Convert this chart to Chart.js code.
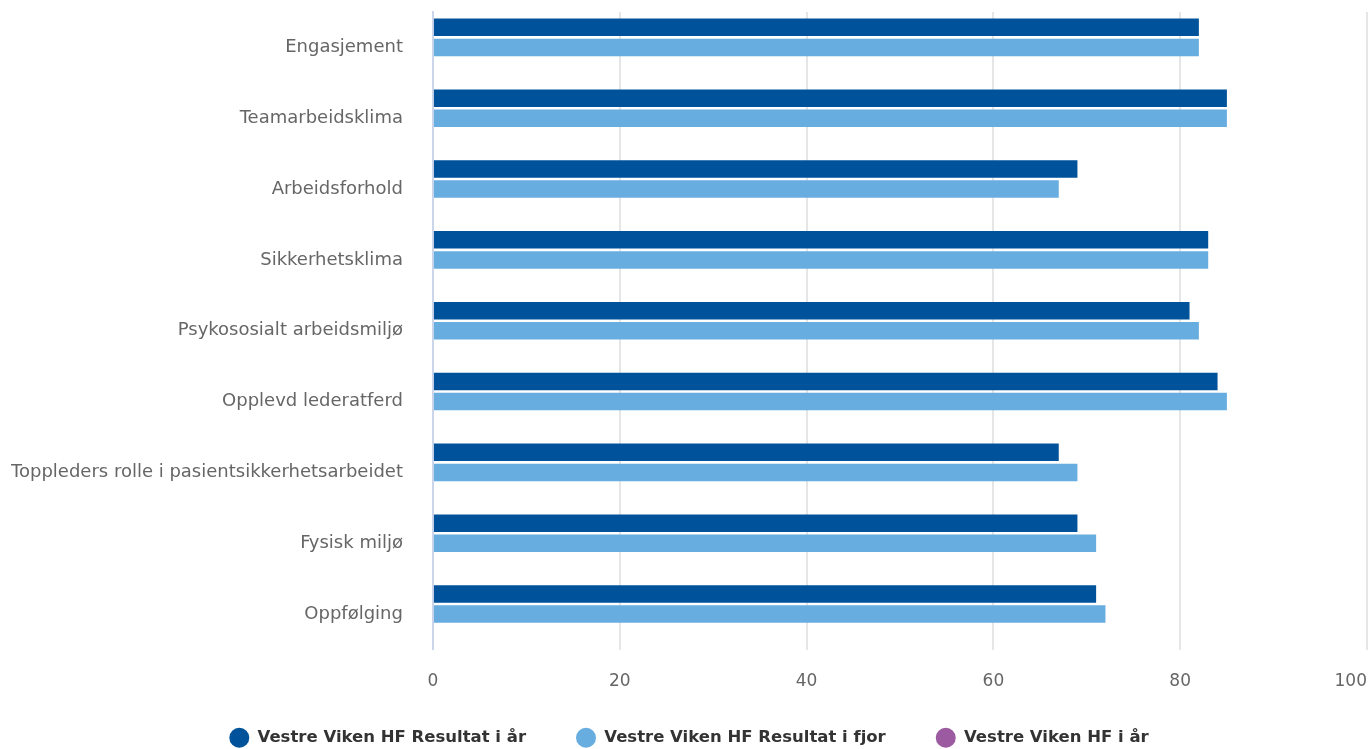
<!DOCTYPE html>
<html>
<head>
<meta charset="utf-8">
<script src="https://cdn.jsdelivr.net/npm/chart.js@4"></script>
<style>
  html, body { margin: 0; padding: 0; background: #fff; overflow: hidden; }
  #wrap { width: 1369px; height: 749px; }
</style>
</head>
<body>
<div id="wrap"><canvas id="chart"></canvas></div>
<script>
const categories = [
    'Engasjement',
    'Teamarbeidsklima',
    'Arbeidsforhold',
    'Sikkerhetsklima',
    'Psykososialt arbeidsmiljø',
    'Opplevd lederatferd',
    'Toppleders rolle i pasientsikkerhetsarbeidet',
    'Fysisk miljø',
    'Oppfølging'
];
const resultatIAar = [82, 85, 69, 83, 81, 84, 67, 69, 71];
const resultatIFjor = [82, 85, 67, 83, 82, 85, 69, 71, 72];
const hfIAar = [null, null, null, null, null, null, null, null, null];
const xTicks = [0, 20, 40, 60, 80, 100];

const font = "'DejaVu Sans', sans-serif";
const yLabelGap = 30;

// x axis box is kept short so the legend sits close; let its labels draw below it
const labelRoom = {
    id: 'labelRoom',
    afterLayout(chart) {
        chart.scales.x.bottom += 20;
    }
};

const ctx = document.getElementById('chart').getContext('2d');
new Chart(ctx, {
    type: 'bar',
    data: {
        labels: categories,
        datasets: [
            { label: 'Vestre Viken HF Resultat i år', data: resultatIAar, backgroundColor: '#00529b' },
            { label: 'Vestre Viken HF Resultat i fjor', data: resultatIFjor, backgroundColor: '#67ade0' },
            { label: 'Vestre Viken HF i år', data: hfIAar, backgroundColor: '#9c5aa0' }
        ]
    },
    plugins: [labelRoom],
    options: {
        indexAxis: 'y',
        responsive: true,
        maintainAspectRatio: false,
        animation: false,
        datasets: {
            bar: { categoryPercentage: 0.85, barPercentage: 0.87 }
        },
        layout: { padding: { left: 11, right: 2, top: 12, bottom: -7 } },
        scales: {
            x: {
                min: 0,
                max: 100,
                afterBuildTicks: axis => { axis.ticks = xTicks.map(v => ({ value: v })); },
                // last label sits left of its grid line, like the original
                afterFit: axis => { axis.height = 30; axis.paddingRight = 0; },
                grid: { color: '#e6e6e6', lineWidth: 2, drawTicks: false },
                border: { display: false },
                ticks: {
                    color: '#666',
                    font: { family: font, size: 17 },
                    padding: 22,
                    callback: v => v === 100 ? '100\u2007\u2007\u2007' : String(v)
                }
            },
            y: {
                afterFit: axis => {
                    axis.paddingTop = 0;
                    axis.paddingBottom = 0;
                    axis.width -= yLabelGap;
                },
                grid: { display: false, drawTicks: false },
                border: { display: true, color: '#ccd6eb', width: 2 },
                ticks: { color: '#666', font: { family: font, size: 18 }, padding: yLabelGap }
            }
        },
        plugins: {
            legend: {
                position: 'bottom',
                labels: {
                    usePointStyle: true,
                    pointStyle: 'circle',
                    pointStyleWidth: 20,
                    boxHeight: 14,
                    padding: 50,
                    color: '#333',
                    font: { family: font, size: 16.5, weight: 'bold' }
                }
            },
            tooltip: { enabled: false }
        }
    }
});
</script>
</body>
</html>
